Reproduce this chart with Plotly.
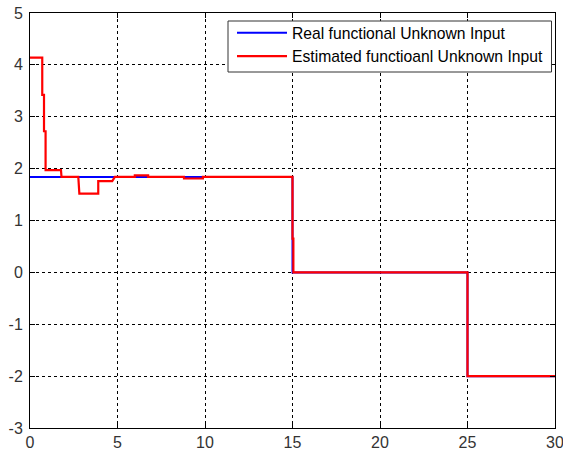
import plotly.graph_objects as go

# Real functional unknown input (piecewise constant)
t_real = [0, 15, 15, 25, 25, 30]
u_real = [1.84, 1.84, 0, 0, -2, -2]

# Estimated functional unknown input (step-wise estimate)
t_est = [0, 0.70, 0.70, 0.80, 0.80, 0.89, 0.89, 1.77, 1.80, 2.76, 2.82, 3.90, 3.90,
         4.70, 4.85, 5.99, 5.99, 6.75, 6.75, 8.80, 8.80, 9.88, 9.88, 15.0, 15.0,
         15.05, 15.05, 25.0, 25.0, 30]
u_est = [4.14, 4.14, 3.42, 3.42, 2.72, 2.72, 1.97, 1.97, 1.84, 1.84, 1.52, 1.52, 1.76,
         1.76, 1.84, 1.84, 1.87, 1.87, 1.84, 1.84, 1.81, 1.81, 1.84, 1.84, 0.65,
         0.65, 0, 0, -2, -2]

x_ticks = [0, 5, 10, 15, 20, 25, 30]
y_ticks = [-3, -2, -1, 0, 1, 2, 3, 4, 5]
x_labels = [str(v) for v in x_ticks]
y_labels = [str(v) for v in y_ticks]   # plain hyphen minus signs

# plot-area geometry in pixels
W, H = 563, 451
L, R, T, B = 30, 8, 13, 23
PW, PH = W - L - R, H - T - B


def px_x(px):
    return (px - L) / PW


def px_y(py):
    return (H - B - py) / PH


fig = go.Figure()
fig.add_trace(go.Scatter(x=t_real, y=u_real, mode="lines",
                         line=dict(color="#0000ff", width=2),
                         name="Real functional Unknown Input"))
fig.add_trace(go.Scatter(x=t_est, y=u_est, mode="lines",
                         line=dict(color="#ff0000", width=2.2),
                         name="Estimated functioanl Unknown Input"))

axis_common = dict(
    showline=True, linecolor="black", linewidth=1, mirror="allticks",
    ticks="inside", ticklen=5, tickcolor="black",
    showgrid=True, gridcolor="black", gridwidth=1, griddash="3px,3px",
    zeroline=False, automargin=False, ticklabeloverflow="allow",
    tickfont=dict(family="Liberation Sans, Arial", size=16, color="#333333"),
)

fig.update_xaxes(range=[0, 30], tickvals=x_ticks, ticktext=x_labels, **axis_common)
fig.update_yaxes(range=[-3, 5], tickvals=y_ticks, ticktext=y_labels,
                 ticklabelstandoff=3, **axis_common)

# legend frame
fig.add_shape(type="rect", xref="paper", yref="paper", layer="above",
              x0=px_x(228), x1=px_x(551.5), y0=px_y(72), y1=px_y(21),
              fillcolor="white", line=dict(color="#333333", width=1))

fig.update_layout(
    width=W, height=H,
    margin=dict(l=L, r=R, t=T, b=B),
    paper_bgcolor="white", plot_bgcolor="white",
    font=dict(family="Liberation Sans, Arial", size=15.5, color="black"),
    legend=dict(x=px_x(232), y=px_y(16),
                xanchor="left", yanchor="top",
                bgcolor="rgba(0,0,0,0)", borderwidth=0,
                font=dict(size=15.7, color="black"),
                itemwidth=50),
    showlegend=True,
)

fig.write_html("out.html")
